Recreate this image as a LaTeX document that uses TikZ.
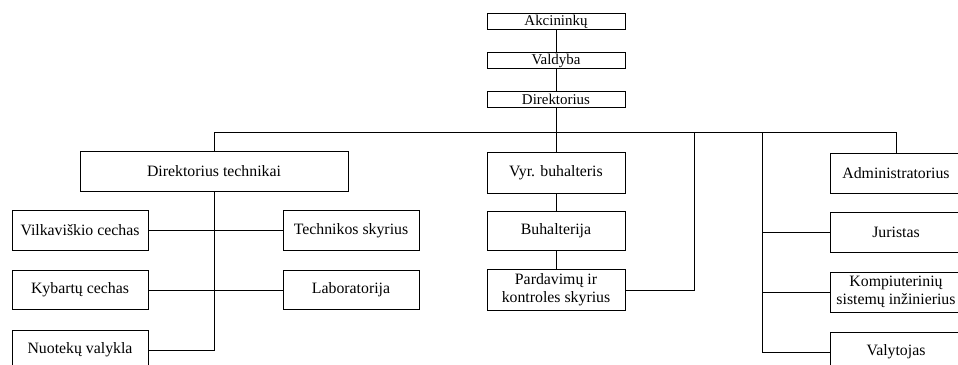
\documentclass[tikz,border=0pt]{standalone}
\usepackage{fontspec}
\setmainfont{Liberation Serif}
\usepackage{tikz}
\tikzstyle{topbox} = [rectangle, draw=black, minimum width=2.76cm, minimum height=0.32cm, inner sep=0pt, text centered, font=\fontsize{8.5}{9}\selectfont]
\tikzstyle{unit} = [rectangle, draw=black, minimum height=0.79cm, inner sep=1pt, text centered, align=center, font=\fontsize{9}{10.5}\selectfont]
\tikzstyle{link} = [line width=0.5pt]

\begin{document}
\begin{tikzpicture}[x=0.02cm, y=-0.02cm, link]
\useasboundingbox (0,0) rectangle (958,365);
\clip (0,0) rectangle (958,365);

\node (akc) [topbox] at (556,21.5) {Akcininkų};

\node (vald) [topbox, below of=akc, node distance=0.78cm] {Valdyba};

\node (dir) [topbox, below of=vald, node distance=0.78cm] {Direktorius};

\coordinate (bus) at (556,132);
\coordinate (mbus) at (694,132);
\coordinate (rbus) at (762,132);

% technine dalis
\node (tech) [unit, minimum width=5.36cm] at (214,171.5) {Direktorius technikai};

\node (vilk) [unit, minimum width=2.72cm] at (80,230.5) {Vilkaviškio cechas};

\node (kyb) [unit, minimum width=2.72cm, below of=vilk, node distance=1.19cm] {Kybartų cechas};

\node (nuot) [unit, minimum width=2.72cm, below of=kyb, node distance=1.2cm] {Nuotekų valykla};

\node (tsk) [unit, minimum width=2.72cm] at (351,230.5) {Technikos skyrius};

\node (lab) [unit, minimum width=2.72cm, below of=tsk, node distance=1.19cm] {Laboratorija};

% buhalterija
\node (vyr) [unit, minimum width=2.76cm, minimum height=0.82cm] at (556,172.5) {Vyr. buhalteris};

\node (buh) [unit, minimum width=2.76cm, below of=vyr, node distance=1.17cm] {Buhalterija};

\node (pard) [unit, minimum width=2.76cm, minimum height=0.82cm, below of=buh, node distance=1.18cm] {Pardavimų ir\\kontroles skyrius};

% administracija
\node (adm) [unit, minimum width=2.64cm, minimum height=0.8cm] at (896,173) {Administratorius};

\node (jur) [unit, minimum width=2.64cm, minimum height=0.8cm, below of=adm, node distance=1.19cm] {Juristas};

\node (komp) [unit, minimum width=2.64cm, minimum height=0.8cm, below of=jur, node distance=1.19cm] {Kompiuterinių\\sistemų inžinierius};

\node (valy) [unit, minimum width=2.64cm, minimum height=0.8cm, below of=komp, node distance=1.2cm] {Valytojas};

\draw (akc) -- (vald);

\draw (vald) -- (dir);

\draw (dir) -- (vyr);

\draw (tech.north) -- (tech.north |- bus) -- (adm.north |- bus) -- (adm.north);

\draw (tech.south) |- (nuot.east);

\draw (vilk.east) -- (tsk.west);

\draw (kyb.east) -- (lab.west);

\draw (vyr) -- (buh);

\draw (buh) -- (pard);

\draw (pard.east) -| (mbus);

\draw (rbus) |- (valy.west);

\draw (rbus |- jur.west) -- (jur.west);

\draw (rbus |- komp.west) -- (komp.west);

\end{tikzpicture}
\end{document}
